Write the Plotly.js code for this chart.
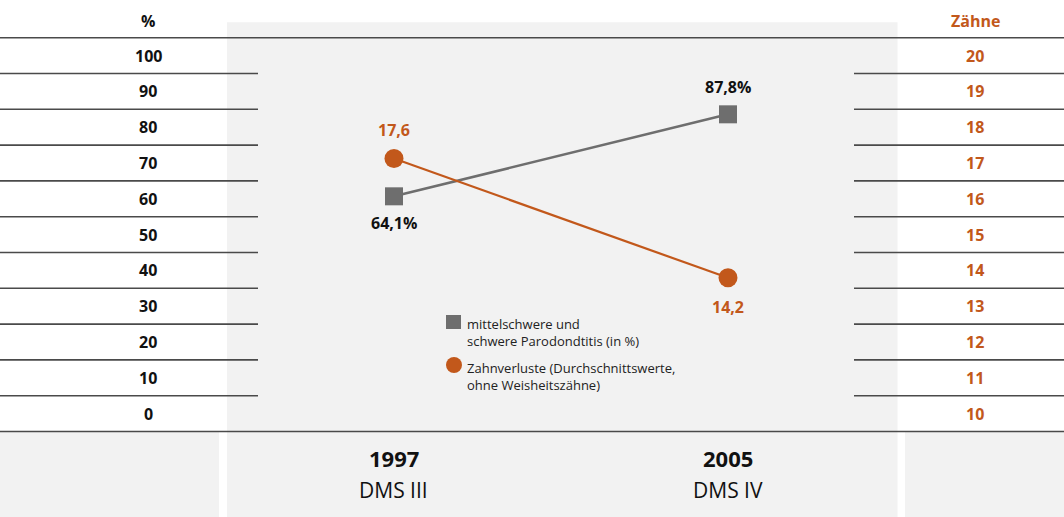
<!DOCTYPE html>
<html><head><meta charset="utf-8">
<script src="https://cdn.plot.ly/plotly-3.0.1.min.js"></script>
<style>html,body{margin:0;padding:0;background:#fff;}#chart{width:1064px;height:517px;}</style>
</head><body><div id="chart"></div>
<script>
// ---- data ----
const years = ['1997', '2005'];
const surveys = ['DMS III', 'DMS IV'];
const parodontitis = [64.1, 87.8];   // % mittelschwere und schwere Parodontitis
const toothLoss = [17.6, 14.2];      // Zahnverluste (Durchschnittswerte)
const percentTicks = [0, 10, 20, 30, 40, 50, 60, 70, 80, 90, 100];
const toothTicks = [10, 11, 12, 13, 14, 15, 16, 17, 18, 19, 20];
const leftTitle = '%';
const rightTitle = 'Zähne';
const legendLabels = ['mittelschwere und<br>schwere Parodondtitis (in %)',
                      'Zahnverluste (Durchschnittswerte,<br>ohne Weisheitszähne)'];

// ---- style ----
const W = 1064, H = 517;
const GRAY = '#6e6e6e', ORANGE = '#c2581b', PANEL = '#f2f2f2', RULE = '#4a4a4a';
const FONT = 'Open Sans, Noto Sans, sans-serif';
const X = p => p / W, Y = p => 1 - p / H;
const fmt = v => v.toFixed(1).replace('.', ',');

const traces = [
  {x: years, y: toothLoss, yaxis: 'y4', type: 'scatter', mode: 'lines+markers',
   line: {color: ORANGE, width: 2.2}, marker: {symbol: 'circle', size: 19, color: ORANGE},
   showlegend: false, hoverinfo: 'skip'},
  {x: years, y: parodontitis, yaxis: 'y3', type: 'scatter', mode: 'lines+markers',
   line: {color: GRAY, width: 2.5}, marker: {symbol: 'square', size: 18, color: GRAY},
   showlegend: false, hoverinfo: 'skip'}
];

const shapes = [];
// panels
shapes.push({type: 'rect', xref: 'paper', yref: 'paper', x0: X(227), x1: X(897.5), y0: Y(517), y1: Y(22.3), fillcolor: PANEL, line: {width: 0}, layer: 'below'});
shapes.push({type: 'rect', xref: 'paper', yref: 'paper', x0: 0, x1: X(219), y0: Y(517), y1: Y(432), fillcolor: PANEL, line: {width: 0}, layer: 'below'});
shapes.push({type: 'rect', xref: 'paper', yref: 'paper', x0: X(905), x1: 1, y0: Y(517), y1: Y(432), fillcolor: PANEL, line: {width: 0}, layer: 'below'});
// rules between tick rows
const rules = percentTicks.map(v => v - 5).concat([percentTicks[percentTicks.length - 1] + 5]);
rules.forEach((v, i) => {
  const full = (i === 0 || i === rules.length - 1);
  if (full) {
    shapes.push({type: 'line', xref: 'paper', yref: 'y', x0: 0, x1: 1, y0: v, y1: v, line: {color: RULE, width: 1.6}, layer: 'below'});
  } else {
    shapes.push({type: 'line', xref: 'paper', yref: 'y', x0: 0, x1: X(258), y0: v, y1: v, line: {color: RULE, width: 1.6}, layer: 'below'});
    shapes.push({type: 'line', xref: 'paper', yref: 'y', x0: X(854), x1: 1, y0: v, y1: v, line: {color: RULE, width: 1.6}, layer: 'below'});
  }
});
// legend symbols
shapes.push({type: 'rect', xref: 'paper', yref: 'paper', x0: X(446), x1: X(461), y0: Y(329), y1: Y(315), fillcolor: GRAY, line: {width: 0}});
shapes.push({type: 'circle', xref: 'paper', yref: 'paper', x0: X(446), x1: X(462), y0: Y(373), y1: Y(357), fillcolor: ORANGE, line: {width: 0}});

const ann = [];
const lab = (o) => Object.assign({showarrow: false, xanchor: 'center', yanchor: 'middle'}, o);
// headers
ann.push(lab({xref: 'paper', yref: 'paper', x: X(148), y: Y(21), text: '<b>' + leftTitle + '</b>', font: {family: FONT, size: 16, color: '#111'}}));
ann.push(lab({xref: 'paper', yref: 'paper', x: X(975), y: Y(21), text: '<b>' + rightTitle + '</b>', font: {family: FONT, size: 16, color: ORANGE}}));
// tick labels
percentTicks.forEach(v => ann.push(lab({xref: 'paper', yref: 'y', x: X(148), y: v, text: '<b>' + v + '</b>', font: {family: FONT, size: 16, color: '#111'}})));
toothTicks.forEach(v => ann.push(lab({xref: 'paper', yref: 'y2', x: X(975), y: v, text: '<b>' + v + '</b>', font: {family: FONT, size: 16, color: ORANGE}})));
// data labels (x given as category index on the category axis)
parodontitis.forEach((v, i) => ann.push(lab({xref: 'x', yref: 'y3', x: years.indexOf(years[i]), y: v, yshift: i === 0 ? -27 : 27, text: '<b>' + fmt(v) + '%</b>', font: {family: FONT, size: 16, color: '#111'}})));
toothLoss.forEach((v, i) => ann.push(lab({xref: 'x', yref: 'y4', x: years.indexOf(years[i]), y: v, yshift: i === 0 ? 29 : -29, text: '<b>' + fmt(v) + '</b>', font: {family: FONT, size: 16, color: ORANGE}})));
// category labels
years.forEach((yr, i) => {
  ann.push(lab({xref: 'x', yref: 'paper', x: i, y: Y(458), text: '<b>' + yr + '</b>', font: {family: FONT, size: 22, color: '#111'}}));
  ann.push(lab({xref: 'x', yref: 'paper', x: i, y: Y(490), text: surveys[i], font: {family: FONT, size: 21, color: '#111'}}));
});
// legend texts
ann.push(lab({xref: 'paper', yref: 'paper', x: X(465), y: Y(332), xanchor: 'left', align: 'left', text: legendLabels[0], font: {family: FONT, size: 13, color: '#222'}}));
ann.push(lab({xref: 'paper', yref: 'paper', x: X(465), y: Y(376), xanchor: 'left', align: 'left', text: legendLabels[1], font: {family: FONT, size: 13, color: '#222'}}));

const hidden = {showgrid: false, zeroline: false, showline: false, showticklabels: false, ticks: '', fixedrange: true};
const layout = {
  width: W, height: H,
  margin: {l: 0, r: 0, t: 0, b: 0, pad: 0},
  paper_bgcolor: '#ffffff', plot_bgcolor: 'rgba(0,0,0,0)',
  showlegend: false,
  xaxis: Object.assign({type: 'category', categoryorder: 'array', categoryarray: years, range: [-1.1796, 2.006], domain: [0, 1]}, hidden),
  yaxis: Object.assign({range: [-28.88, 115.53], domain: [0, 1]}, hidden),
  yaxis2: Object.assign({range: [7.112, 21.553], overlaying: 'y', side: 'right'}, hidden),
  yaxis3: Object.assign({range: [-28.58, 120.84], overlaying: 'y'}, hidden),
  yaxis4: Object.assign({range: [7.383, 22.117], overlaying: 'y', side: 'right'}, hidden),
  shapes: shapes, annotations: ann,
  font: {family: FONT}
};
Plotly.newPlot('chart', traces, layout, {displayModeBar: false, staticPlot: true});
</script></body></html>
